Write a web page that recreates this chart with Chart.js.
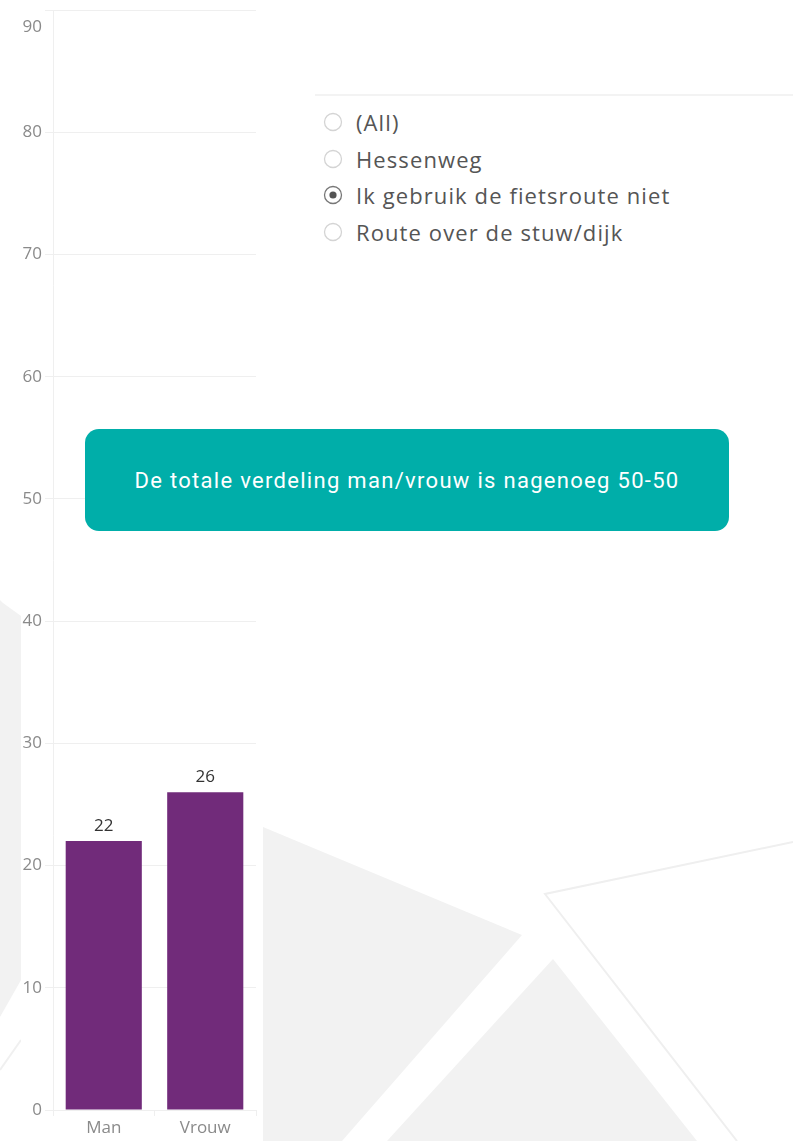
<!DOCTYPE html>
<html>
<head>
<meta charset="utf-8">
<script src="https://cdn.jsdelivr.net/npm/chart.js@4.4.0/dist/chart.umd.min.js"></script>
<style>
  html, body { margin: 0; padding: 0; background: #fff; }
  #page { position: relative; width: 793px; height: 1141px; overflow: hidden; background: #fff; }
  #bg { position: absolute; left: 0; top: 0; }
  #panel { position: absolute; left: 21px; top: 0; width: 241px; height: 1141px; background: #fff; }
  #filter { position: absolute; left: 315px; top: 94px; width: 478px; height: 160px; border-top: 2px solid #f3f3f3; }
  .opt { position: absolute; left: 0; height: 30px; display: flex; align-items: center;
         font: 22px "Open Sans", sans-serif; letter-spacing: 1.1px; color: #555; white-space: nowrap; }
  .opt svg { margin: 0 13px 0 8px; }
  #note { position: absolute; left: 85px; top: 429px; width: 644px; height: 102px; border-radius: 14px;
          background: #00aea9; color: #fff; font: 22px Roboto, sans-serif; letter-spacing: 1.3px;
          display: flex; align-items: center; justify-content: center; }
</style>
</head>
<body>
<div id="page">
  <svg id="bg" width="793" height="1141">
    <polygon points="0,600 3,603 21,616 21,980 0,1017" fill="#f2f2f2"/>
    <line x1="21" y1="1040" x2="0" y2="1070" stroke="#f0f0f0" stroke-width="2"/>
    <polygon points="263,827 522,935 342,1141 263,1141" fill="#f2f2f2"/>
    <polygon points="553,959 697,1141 387,1141" fill="#f2f2f2"/>
    <polyline points="793,842 545,894 737,1141" fill="none" stroke="#efefef" stroke-width="2"/>
  </svg>
  <div id="panel"><canvas id="chart"></canvas></div>
  <div id="filter"></div>
  <div id="note">De totale verdeling man/vrouw is nagenoeg 50-50</div>
</div>
<script>
const categories = ['Man', 'Vrouw']
const counts     = [22, 26]
const yMax       = 90
const yStep      = 10

const routeOptions  = ['(All)', 'Hessenweg', 'Ik gebruik de fietsroute niet', 'Route over de stuw/dijk']
const selectedRoute = 'Ik gebruik de fietsroute niet'

// radio list (filter card)
const filter = document.getElementById('filter')
routeOptions.forEach((label, i) => {
  const on = label === selectedRoute
  const row = document.createElement('div')
  row.className = 'opt'
  row.style.top = (11 + i * 36.7) + 'px'
  row.innerHTML =
    '<svg width="20" height="20"><circle cx="10" cy="10" r="8.5" fill="#fff" stroke="' +
    (on ? '#777' : '#d4d4d4') + '" stroke-width="1.3"/>' +
    (on ? '<circle cx="10" cy="10" r="3.6" fill="#555"/>' : '') + '</svg>'
  row.appendChild(document.createTextNode(label))
  filter.appendChild(row)
})

const FONT = { family: '"Open Sans", sans-serif', size: 17, lineHeight: 2 }
const GRID = '#efefef'

const valueLabels = {
  id: 'valueLabels',
  afterDatasetsDraw(chart) {
    const { ctx } = chart
    ctx.save()
    ctx.font = '17px "Open Sans", sans-serif'
    ctx.fillStyle = '#333'
    ctx.textAlign = 'center'
    ctx.textBaseline = 'alphabetic'
    chart.getDatasetMeta(0).data.forEach((bar, i) => ctx.fillText(counts[i], bar.x, bar.y - 10))
    ctx.restore()
  },
}

const canvas = document.getElementById('chart')
canvas.width = 241
canvas.height = 1141

new Chart(canvas, {
  type: 'bar',
  data: {
    labels: categories,
    datasets: [{
      data: counts,
      backgroundColor: '#712b7a',
      barPercentage: 0.75,
      categoryPercentage: 1,
    }],
  },
  options: {
    responsive: false,
    animation: false,
    layout: { padding: { top: 10, right: 6, bottom: 0, left: 0 } },
    plugins: { legend: { display: false }, tooltip: { enabled: false } },
    scales: {
      x: {
        grid: { color: GRID, drawOnChartArea: false, tickLength: 6 },
        border: { color: GRID },
        ticks: { color: '#8a8a8a', font: { ...FONT, lineHeight: 1.2 }, padding: 2 },
        afterFit: s => { s.height = 31 },
      },
      y: {
        min: 0,
        max: yMax,
        grid: { color: GRID, tickLength: 8 },
        border: { color: GRID },
        ticks: {
          stepSize: yStep,
          color: '#8a8a8a',
          font: FONT,
          padding: 3,
          // top label sits just below its gridline, as in the original
          callback: v => v === yMax ? ['', String(v)] : String(v),
        },
        afterFit: s => { s.width = 32; s.paddingTop = 0; s.paddingBottom = 0 },
      },
    },
  },
  plugins: [valueLabels],
})
</script>
</body>
</html>
